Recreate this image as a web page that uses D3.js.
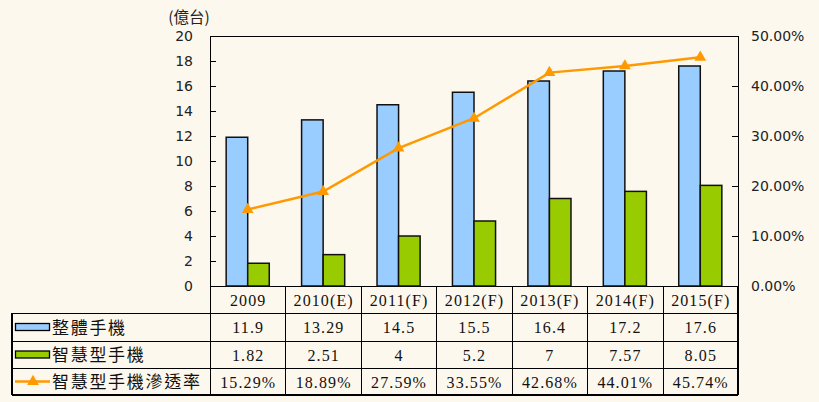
<!DOCTYPE html>
<html><head><meta charset="utf-8">
<script src="https://cdn.jsdelivr.net/npm/d3@7"></script>
<style>body{margin:0;background:#fdf8ee;}svg{display:block;}</style>
</head><body>
<svg id="chart" width="819" height="402"></svg>
<script>
const categories = ["2009","2010(E)","2011(F)","2012(F)","2013(F)","2014(F)","2015(F)"];
const totalPhones = [11.9,13.29,14.5,15.5,16.4,17.2,17.6];
const totalLabels = ["11.9","13.29","14.5","15.5","16.4","17.2","17.6"];
const smartPhones = [1.82,2.51,4,5.2,7,7.57,8.05];
const smartLabels = ["1.82","2.51","4","5.2","7","7.57","8.05"];
const penetration = [15.29,18.89,27.59,33.55,42.68,44.01,45.74];
const penetrationLabels = ["15.29%","18.89%","27.59%","33.55%","42.68%","44.01%","45.74%"];
const seriesNames = ["整體手機","智慧型手機","智慧型手機滲透率"];
const leftTicks = [0,2,4,6,8,10,12,14,16,18,20];
const rightTicks = [0,10,20,30,40,50];
const unitLabel = "(億台)";

const svg = d3.select("#chart");
const W = 819, H = 402;
const L = 210, R = 738, T = 36, B = 286;
const rowY = [286, 313, 341, 368, 395];
const tableLeft = 12;
const blue = "#99ccff", green = "#99cc00", orange = "#ff9900";
const sansFont = "'DejaVu Sans', Verdana, sans-serif";
const serifFont = "'Liberation Serif', 'Times New Roman', serif";
const cjkFont = "'Noto Sans CJK TC', sans-serif";

svg.append("rect").attr("width", W).attr("height", H).attr("fill", "#fdf8ee");

const x = d3.scaleBand().domain(categories).range([L, R]).paddingInner(0).paddingOuter(0);
const sub = d3.scaleBand().domain(["total","smart"]).range([0, x.bandwidth()]).paddingInner(0).paddingOuter(0.75);
const y = d3.scaleLinear().domain([0, 20]).range([B, T]);
const y2 = d3.scaleLinear().domain([0, 50]).range([B, T]);

// plot box
svg.append("rect").attr("x", L).attr("y", T).attr("width", R - L).attr("height", B - T)
  .attr("fill", "none").attr("stroke", "#000").attr("stroke-width", 1).attr("shape-rendering","crispEdges");

// axes
const yAxis = d3.axisLeft(y).tickValues(leftTicks).tickSizeInner(-6).tickSizeOuter(0).tickPadding(17).tickFormat(d3.format("d"));
const ga = svg.append("g").attr("transform", `translate(${L},0)`).call(yAxis);
ga.select(".domain").remove();
ga.selectAll("text").attr("font-family", sansFont).attr("font-size", 14).attr("fill", "#222");
ga.selectAll("line").attr("shape-rendering","crispEdges");

const y2Axis = d3.axisRight(y2).tickValues(rightTicks).tickSizeInner(-6).tickSizeOuter(0).tickPadding(13).tickFormat(d => d.toFixed(2) + "%");
const gb = svg.append("g").attr("transform", `translate(${R},0)`).call(y2Axis);
gb.select(".domain").remove();
gb.selectAll("text").attr("font-family", sansFont).attr("font-size", 14).attr("fill", "#222");
gb.selectAll("line").attr("shape-rendering","crispEdges");

// unit label
svg.append("text").attr("x", 189).attr("y", 23).attr("text-anchor", "middle")
  .attr("font-family", cjkFont).attr("font-size", 15.5).attr("fill", "#222").text(unitLabel);

// bars
const groups = svg.append("g");
groups.selectAll(".tb").data(categories).join("rect")
  .attr("x", (d) => x(d) + sub("total")).attr("y", (d, i) => y(totalPhones[i]))
  .attr("width", sub.bandwidth()).attr("height", (d, i) => y(0) - y(totalPhones[i]))
  .attr("fill", blue).attr("stroke", "#111").attr("stroke-width", 1.5);
groups.selectAll(".sb").data(categories).join("rect")
  .attr("x", (d) => x(d) + sub("smart")).attr("y", (d, i) => y(smartPhones[i]))
  .attr("width", sub.bandwidth()).attr("height", (d, i) => y(0) - y(smartPhones[i]))
  .attr("fill", green).attr("stroke", "#111").attr("stroke-width", 1.5);

// line
const cx = d => x(d) + x.bandwidth() / 2;
const line = d3.line().x((d, i) => cx(categories[i])).y(d => y2(d));
svg.append("path").datum(penetration).attr("d", line)
  .attr("fill", "none").attr("stroke", orange).attr("stroke-width", 2.5);
const tri = d3.symbol().type(d3.symbolTriangle).size(60);
svg.selectAll(".mk").data(penetration).join("path")
  .attr("d", tri).attr("transform", (d, i) => `translate(${cx(categories[i])},${y2(d)})`)
  .attr("fill", orange);

// table
const tbl = svg.append("g").attr("shape-rendering", "crispEdges");
[1, 2, 3].forEach(r => {
  tbl.append("line").attr("x1", tableLeft).attr("x2", R).attr("y1", rowY[r]).attr("y2", rowY[r]).attr("stroke", "#000");
});
tbl.append("line").attr("x1", tableLeft).attr("x2", R).attr("y1", rowY[4]).attr("y2", rowY[4]).attr("stroke", "#000").attr("stroke-width", 1.5);
tbl.append("line").attr("x1", tableLeft).attr("x2", tableLeft).attr("y1", rowY[1]).attr("y2", rowY[4]).attr("stroke", "#000").attr("stroke-width", 1.5);
const vx = categories.map(c => x(c)).concat([R]);
tbl.selectAll(".vl").data(vx).join("line")
  .attr("x1", d => Math.round(d)).attr("x2", d => Math.round(d)).attr("y1", rowY[0]).attr("y2", rowY[4])
  .attr("stroke", "#000").attr("stroke-width", (d, i) => i === vx.length - 1 ? 1.5 : 1);

const cellText = (labels, row) => {
  svg.append("g").selectAll("text").data(categories).join("text")
    .attr("x", d => cx(d) + 0.5).attr("y", (rowY[row] + rowY[row + 1]) / 2 + 6)
    .attr("text-anchor", "middle").attr("font-family", serifFont).attr("font-size", 16)
    .attr("letter-spacing", 1.1).attr("fill", "#111")
    .text((d, i) => labels[i]);
};
cellText(categories, 0);
cellText(totalLabels, 1);
cellText(smartLabels, 2);
cellText(penetrationLabels, 3);

// legend cells
const legendColors = [blue, green, orange];
[1, 2, 3].forEach((r, i) => {
  const cy = (rowY[r] + rowY[r + 1]) / 2;
  if (i < 2) {
    svg.append("rect").attr("x", 15.5).attr("y", cy - 3.5).attr("width", 34).attr("height", 7)
      .attr("fill", legendColors[i]).attr("stroke", "#000").attr("stroke-width", 1.3);
  } else {
    svg.append("line").attr("x1", 15).attr("x2", 50).attr("y1", cy).attr("y2", cy)
      .attr("stroke", orange).attr("stroke-width", 2.5);
    svg.append("path").attr("d", tri).attr("transform", `translate(33,${cy})`).attr("fill", orange);
  }
  svg.append("text").attr("x", 52).attr("y", cy + 6.5)
    .attr("font-family", cjkFont).attr("font-size", 17).attr("letter-spacing", 1.7).attr("fill", "#111")
    .text(seriesNames[i]);
});
</script>
</body></html>
